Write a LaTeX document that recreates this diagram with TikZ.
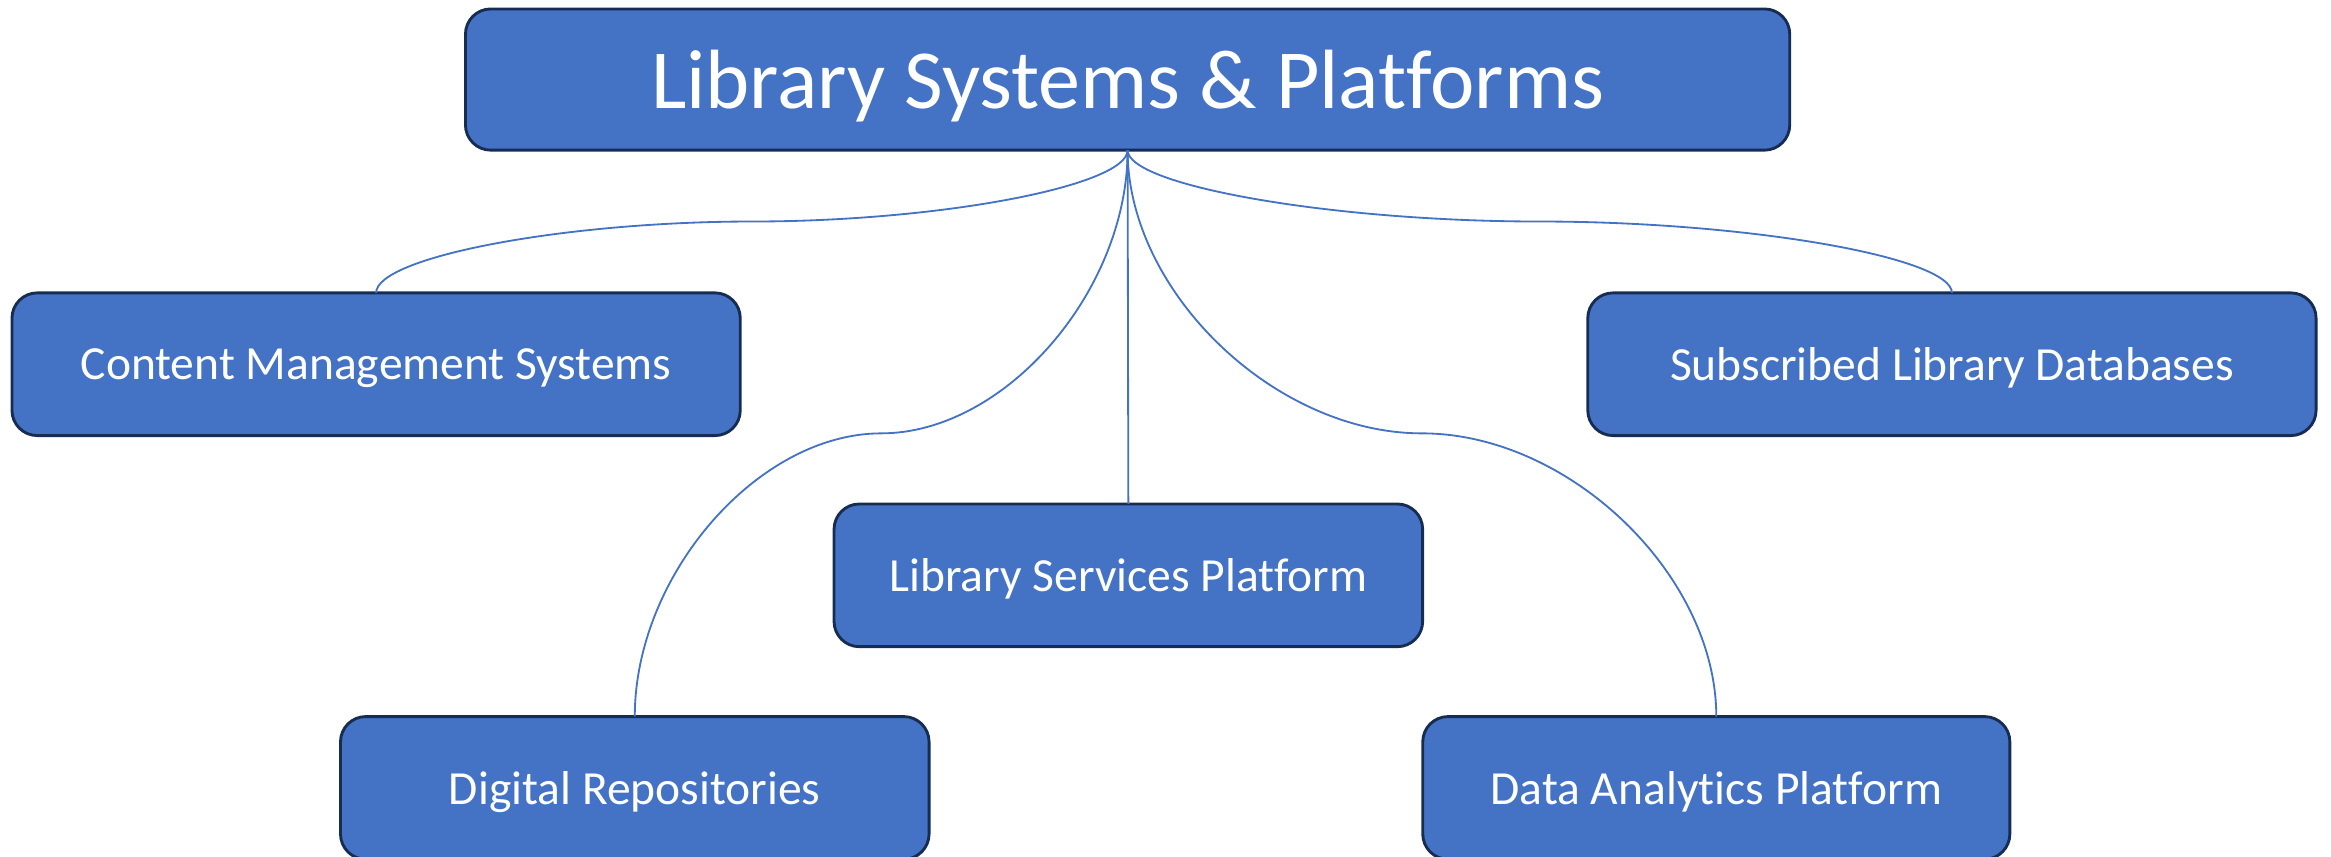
\documentclass[tikz,border=0pt]{standalone}
\usepackage{fontspec}
\setmainfont{Carlito}[Ligatures=NoCommon]
\usetikzlibrary{calc}
\definecolor{boxblue}{HTML}{4472C4}
\definecolor{boxline}{HTML}{172C51}
\tikzset{
  topic/.style={draw=boxline, line width=1.1pt, fill=boxblue, rounded corners=0.34cm,
    text=white, inner sep=0pt, outer sep=0pt, text depth=0pt, minimum height=1.92cm,
    font=\fontsize{18.2}{22}\selectfont},
  link/.style={draw=boxblue, line width=0.7pt}
}
% S-shaped connector from the top box to a child
\newcommand{\branch}[2]{%
  \draw[link] let \p1=(#1.south), \p2=(#2.north) in
    (\p1) .. controls (\x1,{\y1+(\y2-\y1)/4}) and ({\x1+(\x2-\x1)/4},{(\y1+\y2)/2})
    .. ({(\x1+\x2)/2},{(\y1+\y2)/2})
    .. controls ({\x1+3*(\x2-\x1)/4},{(\y1+\y2)/2}) and (\x2,{\y1+3*(\y2-\y1)/4}) .. (\p2);}
\begin{document}
\begin{tikzpicture}[x=0.02cm, y=-0.02cm]
    \useasboundingbox (0, 0) rectangle (1568, 576);
    \node[topic, minimum width=17.82cm, minimum height=1.9cm, font=\fontsize{32.2}{38}\selectfont] (top) at (758.5, 53.5) {Library Systems \& Platforms};
    \node[topic, minimum width=9.8cm] (cms) at (253, 245) {Content Management Systems};
    \node[topic, minimum width=9.8cm] (sld) at (1313, 245) {Subscribed Library Databases};
    \node[topic, minimum width=7.92cm] (lsp) at (759, 387) {Library Services Platform};
    \node[topic, minimum width=7.92cm] (dr) at (427, 530) {Digital Repositories};
    \node[topic, minimum width=7.9cm] (dap) at (1154.5, 530) {Data Analytics Platform};
    \branch{top}{cms}
    \branch{top}{sld}
    \branch{top}{dr}
    \branch{top}{dap}
    \draw[link] (top.south) -- (lsp.north);
\end{tikzpicture}
\end{document}
